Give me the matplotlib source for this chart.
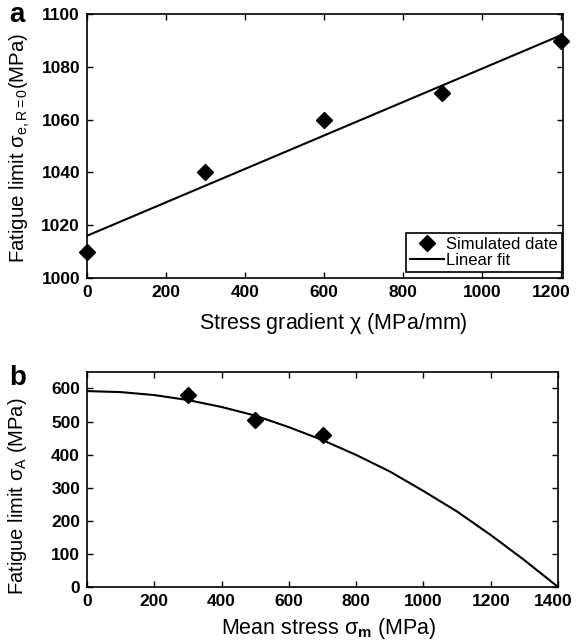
import matplotlib
matplotlib.use("Agg")
import matplotlib.pyplot as plt
from matplotlib.transforms import ScaledTranslation

plt.rcParams['font.family'] = ['Liberation Sans', 'DejaVu Sans']
plt.rcParams['mathtext.fontset'] = 'custom'
plt.rcParams['mathtext.rm'] = 'Liberation Sans'
plt.rcParams['mathtext.it'] = 'Liberation Sans'
plt.rcParams['mathtext.bf'] = 'Liberation Sans:bold'

# Panel a data
grad_x = [0, 300, 600, 900, 1200]
grad_y = [1010, 1040, 1060, 1070, 1090]
fit_x = [0, 1200]
fit_y = [1016, 1092]
a_xticks = [0, 200, 400, 600, 800, 1000, 1200]
a_yticks = [1000, 1020, 1040, 1060, 1080, 1100]

# Panel b data
mean_x = [300, 500, 700]
mean_y = [580, 505, 460]
curve_x = [0, 100, 200, 300, 400, 500, 600, 700, 800, 900, 1000, 1100, 1200, 1300, 1400]
curve_y = [592, 589, 580, 565, 544, 518, 483, 444, 399, 349, 290, 228, 157, 81, 0]
b_xticks = [0, 200, 400, 600, 800, 1000, 1200, 1400]
b_yticks = [0, 100, 200, 300, 400, 500, 600]

fig = plt.figure(figsize=(5.78, 6.42), dpi=100)
axa = fig.add_axes([0.1505, 0.567, 0.8235, 0.411])
axb = fig.add_axes([0.1505, 0.0857, 0.815, 0.335])

def style(ax, last_shift):
    ax.tick_params(direction='in', top=True, right=True, length=4.5, width=1,
                   labelsize=12.5, pad=5)
    for lab in ax.get_xticklabels() + ax.get_yticklabels():
        lab.set_fontweight('bold')
    last = ax.get_xticklabels()[-1]
    last.set_transform(last.get_transform() +
                       ScaledTranslation(last_shift / 100.0, 0, fig.dpi_scale_trans))
    for s in ax.spines.values():
        s.set_linewidth(1.2)

l1, = axa.plot(grad_x, grad_y, 'D', color='black', markersize=8,
               linestyle='none', clip_on=False, label='Simulated date', zorder=3)
l2, = axa.plot(fit_x, fit_y, '-', color='black', linewidth=1.5, label='Linear fit')
axa.set_xlim(0, 1205)
axa.set_ylim(1000, 1100)
axa.set_xticks(a_xticks)
axa.set_yticks(a_yticks)
style(axa, -10)
axa.set_xlabel(r'Stress gradient $\chi$ (MPa/mm)', fontsize=15.5)
axa.xaxis.set_label_coords(0.518, -0.125)
axa.set_ylabel(r'Fatigue limit $\sigma_{e,R=0}$(MPa)', fontsize=14.7)
axa.yaxis.label.set_va('center')
axa.yaxis.set_label_coords(-0.141, 0.494)
leg = axa.legend(handles=[l1, l2], loc='lower right', fontsize=12,
                 bbox_to_anchor=(0.998, 0.023),
                 frameon=True, fancybox=False, edgecolor='black', framealpha=1,
                 handlelength=2.0, handletextpad=0.15, borderpad=0.25,
                 labelspacing=0.05, borderaxespad=0.0)
leg.get_frame().set_linewidth(1.2)
fig.text(0.016, 0.9657, 'a', fontsize=20, fontweight='bold', va='baseline')

axb.plot(curve_x, curve_y, '-', color='black', linewidth=1.5)
axb.plot(mean_x, mean_y, 'D', color='black', markersize=8, linestyle='none')
axb.set_xlim(0, 1400)
axb.set_ylim(0, 650)
axb.set_xticks(b_xticks)
axb.set_yticks(b_yticks)
style(axb, -5)
axb.set_xlabel(r'Mean stress $\sigma_\mathbf{m}$ (MPa)', fontsize=15.5)
axb.xaxis.set_label_coords(0.513, -0.135)
axb.set_ylabel(r'Fatigue limit $\sigma_A$ (MPa)', fontsize=14.5)
axb.yaxis.label.set_va('center')
axb.yaxis.set_label_coords(-0.1465, 0.423)
fig.text(0.016, 0.4003, 'b', fontsize=20, fontweight='bold', va='baseline')

fig.savefig('out.png', dpi=100)
